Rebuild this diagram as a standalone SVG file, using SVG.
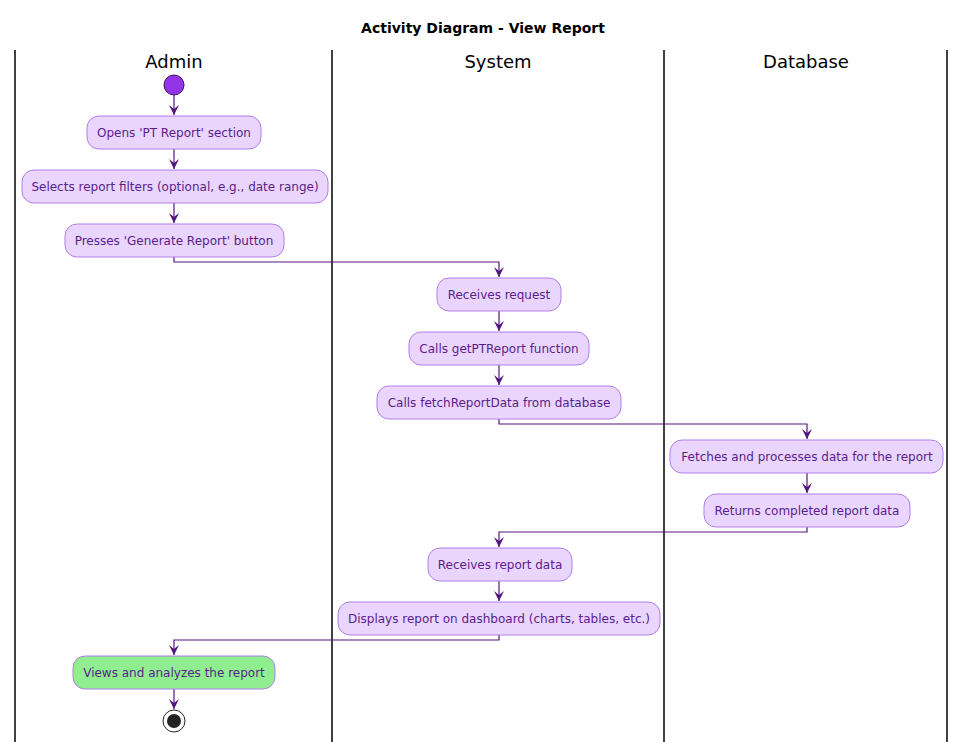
<svg xmlns="http://www.w3.org/2000/svg" width="966" height="742" viewBox="0 0 966 742">
<defs>
<marker id="ah" viewBox="0 0 10 10" refX="10" refY="5" markerWidth="10" markerHeight="10" markerUnits="userSpaceOnUse" orient="auto">
<path d="M0,0 L10,5 L0,10 L4,5 Z" fill="#54157F"/>
</marker>
</defs>
<style>
.lane{stroke:#000;stroke-width:1.5}
.title{font-family:"DejaVu Sans",sans-serif;font-size:14px;font-weight:bold;fill:#000}
.lt{font-family:"DejaVu Sans",sans-serif;font-size:18px;fill:#000}
.act rect{fill:#E9D5FD;stroke:#B07EEB;stroke-width:1}
.act text{font-family:"DejaVu Sans",sans-serif;font-size:12px;fill:#5A1E8C;text-anchor:middle}
.conn path{fill:none;stroke:#54157F;stroke-width:1.2;marker-end:url(#ah)}
</style>
<rect width="966" height="742" fill="#fff"/>
<text class="title" x="483" y="33" text-anchor="middle">Activity Diagram - View Report</text>
<g id="lanes">
<line class="lane" x1="15" y1="50" x2="15" y2="742"/>
<line class="lane" x1="332" y1="50" x2="332" y2="742"/>
<line class="lane" x1="664" y1="50" x2="664" y2="742"/>
<line class="lane" x1="947" y1="50" x2="947" y2="742"/>
<text class="lt" x="174" y="68" text-anchor="middle">Admin</text>
<text class="lt" x="498" y="68" text-anchor="middle">System</text>
<text class="lt" x="806" y="68" text-anchor="middle">Database</text>
</g>
<g id="start"><circle cx="174" cy="85" r="10" fill="#9334E6" stroke="#3A1060" stroke-width="1"/></g>
<g class="conn" id="connectors">
<path d="M174,95 V115"/>
<path d="M174,149 V169"/>
<path d="M174,203 V223"/>
<path d="M174,257 V262 H499 V277"/>
<path d="M499,311 V331"/>
<path d="M499,365 V385"/>
<path d="M499,419 V424 H807 V439"/>
<path d="M807,473 V493"/>
<path d="M807,527 V532 H499 V547"/>
<path d="M499,581 V601"/>
<path d="M499,635 V640 H174 V655"/>
<path d="M174,689 V709"/>
</g>
<g class="act" id="n1"><rect x="87" y="116" width="174" height="33" rx="12"/><text x="174" y="137">Opens 'PT Report' section</text></g>
<g class="act" id="n2"><rect x="22" y="170" width="306" height="33" rx="12"/><text x="175" y="191">Selects report filters (optional, e.g., date range)</text></g>
<g class="act" id="n3"><rect x="65" y="224" width="219" height="33" rx="12"/><text x="174" y="245">Presses 'Generate Report' button</text></g>
<g class="act" id="n4"><rect x="437" y="278" width="124" height="33" rx="12"/><text x="499" y="299">Receives request</text></g>
<g class="act" id="n5"><rect x="409" y="332" width="180" height="33" rx="12"/><text x="499" y="353">Calls getPTReport function</text></g>
<g class="act" id="n6"><rect x="377" y="386" width="244" height="33" rx="12"/><text x="499" y="407">Calls fetchReportData from database</text></g>
<g class="act" id="n7"><rect x="670" y="440" width="273" height="33" rx="12"/><text x="807" y="461">Fetches and processes data for the report</text></g>
<g class="act" id="n8"><rect x="704" y="494" width="206" height="33" rx="12"/><text x="807" y="515">Returns completed report data</text></g>
<g class="act" id="n9"><rect x="428" y="548" width="144" height="33" rx="12"/><text x="500" y="569">Receives report data</text></g>
<g class="act" id="n10"><rect x="338" y="602" width="322" height="33" rx="12"/><text x="499" y="623">Displays report on dashboard (charts, tables, etc.)</text></g>
<g class="act" id="n11"><rect x="73" y="656" width="202" height="33" rx="12" style="fill:#90EE90"/><text x="174" y="677">Views and analyzes the report</text></g>
<g id="end"><circle cx="174" cy="721" r="11" fill="#fff" stroke="#222" stroke-width="1"/><circle cx="174" cy="721" r="7" fill="#222"/></g>
</svg>
